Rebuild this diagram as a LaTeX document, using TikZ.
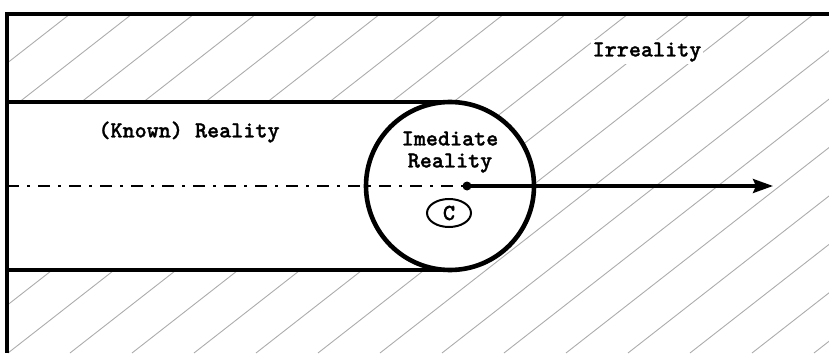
\documentclass[tikz,border=0pt]{standalone}
\usepackage{fontspec}
\newfontfamily\labelfont{lmmonolt10-bold.otf}[FakeBold=1.2]
\usetikzlibrary{arrows.meta, shapes.geometric}

\tikzset{
  wall/.style={line width=2pt},
  hatchline/.style={gray!65, line width=0.45pt},
  axisline/.style={line width=1pt, dash pattern=on 6pt off 4pt on 1.5pt off 4pt},
  label/.style={font=\fontsize{11.5}{11}\selectfont\labelfont, inner sep=1pt}
}

\begin{document}
\begin{tikzpicture}[x=0.5pt, y=-0.5pt, >={Stealth[length=10pt, width=7pt, inset=1.5pt]}]
  \useasboundingbox (0,0) rectangle (829,353);

  % --- Irreality: hatched everywhere inside the frame ---
  \begin{scope}
    \clip (7,14) rectangle (829,353);
    \foreach \i in {-1,...,21}
      \draw[hatchline] ({70+62*\i},14) -- ++(-434,339);
  \end{scope}

  % --- (Known) Reality: band plus immediate circle, left blank ---
  \fill[white] (7,102) rectangle (450,270);
  \fill[white] (450,186) circle[radius=84];

  % frame and band
  \draw[wall] (829,14) -- (7,14) -- (7,353);
  \draw[wall] (7,102) -- (450,102);
  \draw[wall] (7,270) -- (450,270);
  \node[circle, draw, line width=2.3pt, minimum size=84pt, inner sep=0pt] (imm) at (450,186) {};

  % axis of time
  \coordinate (past) at (7,186);
  \coordinate (now) at (467,186);
  \coordinate (future) at (773,186);
  \draw[axisline] (past) -- (now);
  \fill (now) circle[radius=4.5];
  \draw[->, line width=1.6pt] (now) -- (future);

  % labels
  \node[label, fill=white] (irr) at (647,52) {Irreality};
  \node[label] (known) at (189,132) {(Known) Reality};
  \node[label, align=center] (immtext) at (450,152) {Imediate\\Reality};
  \node[label, draw, ellipse, line width=1pt, minimum width=22pt, minimum height=14pt, inner sep=0pt] (c) at (449,213) {C};
\end{tikzpicture}
\end{document}
